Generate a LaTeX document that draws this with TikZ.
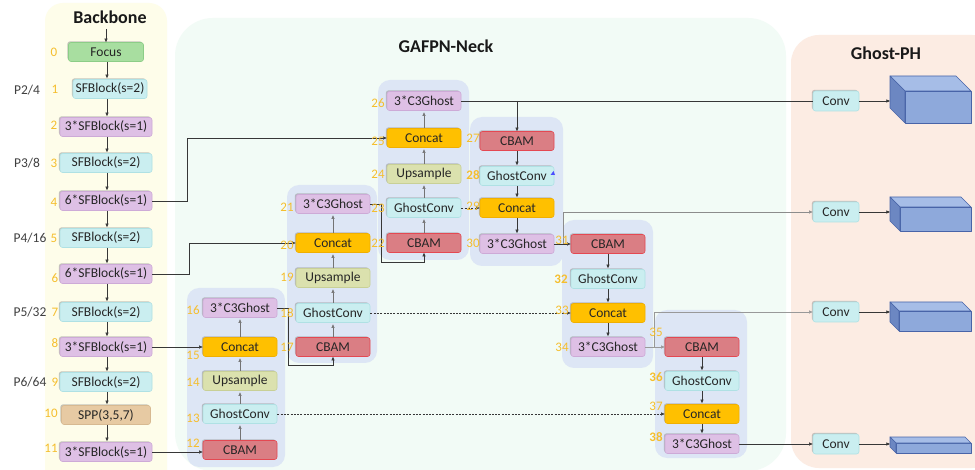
\documentclass[tikz,border=0pt]{standalone}
\usepackage{fontspec}
\setmainfont{Carlito}
\usetikzlibrary{arrows.meta,shadows}

\definecolor{bbback}{RGB}{254,253,234}
\definecolor{neckback}{RGB}{242,251,246}
\definecolor{headback}{RGB}{252,236,227}
\definecolor{grpback}{RGB}{221,230,245}
\definecolor{numcol}{RGB}{245,190,45}
\definecolor{labcol}{RGB}{64,64,64}
\definecolor{focusfill}{RGB}{168,222,160}
\definecolor{focusline}{RGB}{140,205,135}
\definecolor{cyanfill}{RGB}{202,238,240}
\definecolor{cyanline}{RGB}{175,225,228}
\definecolor{purplefill}{RGB}{222,192,229}
\definecolor{purpleline}{RGB}{205,170,215}
\definecolor{sppfill}{RGB}{231,202,163}
\definecolor{sppline}{RGB}{215,185,145}
\definecolor{concatfill}{RGB}{255,192,0}
\definecolor{concatline}{RGB}{240,175,0}
\definecolor{upfill}{RGB}{219,225,174}
\definecolor{upline}{RGB}{200,208,150}
\definecolor{cbamfill}{RGB}{218,126,132}
\definecolor{cbamline}{RGB}{228,72,82}
\definecolor{cubefront}{RGB}{142,169,219}
\definecolor{cubetop}{RGB}{166,189,231}
\definecolor{cubeside}{RGB}{108,135,194}
\definecolor{cubeline}{RGB}{72,100,168}
\definecolor{wire}{RGB}{55,55,55}

\tikzset{
  blk/.style={rounded corners=2.5pt, minimum height=19pt, inner sep=1pt,
    font=\fontsize{13.5}{15}\selectfont, text=black!85, line width=0.6pt,
    drop shadow={shadow xshift=-1.1pt, shadow yshift=1.1pt, fill=black!45, opacity=0.5}},
  focusb/.style={blk, fill=focusfill, draw=focusline, minimum width=75pt},
  sfa/.style={blk, fill=cyanfill, draw=cyanline, minimum width=92pt},
  sfb/.style={blk, fill=purplefill, draw=purpleline, minimum width=92pt},
  sppb/.style={blk, fill=sppfill, draw=sppline, minimum width=89pt},
  cbamb/.style={blk, fill=cbamfill, draw=cbamline, minimum width=74pt},
  gconvb/.style={blk, fill=cyanfill, draw=cyanline, minimum width=74pt},
  upb/.style={blk, fill=upfill, draw=upline, minimum width=74pt},
  concatb/.style={blk, fill=concatfill, draw=concatline, minimum width=74pt},
  ghostb/.style={blk, fill=purplefill, draw=purpleline, minimum width=74pt},
  convb/.style={blk, fill=cyanfill, draw=cyanline, minimum width=46pt, minimum height=20pt},
  num/.style={font=\fontsize{13}{15}\selectfont, text=numcol, inner sep=0pt},
  numbold/.style={num, font=\fontsize{13}{15}\selectfont\bfseries},
  plab/.style={font=\fontsize{13.5}{15}\selectfont, text=labcol, inner sep=0pt},
  title/.style={font=\fontsize{18}{20}\selectfont\bfseries, text=black!90, inner sep=0pt},
  panel/.style={fill=grpback, draw=none, rounded corners=12pt},
  ln/.style={draw=wire, line width=0.6pt},
  arr/.style={ln, -{Triangle[length=3.6pt,width=3pt]}},
  uparr/.style={arr, draw=black!55, shorten >=1.5pt},
  dsh/.style={arr, dash pattern=on 2pt off 1.3pt},
  cube/.style={draw=cubeline, line width=0.6pt, line join=round}
}

% cuboid: front face from x=#1 to 971, y=#2..#3, depth #4
\newcommand{\featcube}[4]{%
  \filldraw[cube, fill=cubefront] (#1,#2) rectangle (971,#3);
  \filldraw[cube, fill=cubetop] (#1,#2) -- (#1-#4,#2-#4) -- (971-#4,#2-#4) -- (971,#2) -- cycle;
  \filldraw[cube, fill=cubeside] (#1,#2) -- (#1-#4,#2-#4) -- (#1-#4,#3-#4) -- (#1,#3) -- cycle;
}

\begin{document}
\begin{tikzpicture}[x=1pt,y=-1pt]
\useasboundingbox (0,0) rectangle (975,470);
\clip (0,0) rectangle (975,470);
\fill[white] (0,0) rectangle (975,470);

% section backgrounds
\fill[bbback, rounded corners=18pt] (45,3) rectangle (167,490);
\fill[neckback, rounded corners=38pt] (175,18) rectangle (786,471);
\fill[headback, rounded corners=28pt] (791,35) rectangle (1000,468);

\node[title] (tbb) at (110,17) {Backbone};
\node[title] (tneck) at (446,46) {GAFPN-Neck};
\node[title] (thead) at (886,53) {Ghost-PH};

% neck group panels
\fill[panel] (187,288) rectangle (285,467);
\fill[panel] (287,185) rectangle (377,363);
\fill[panel] (378,80) rectangle (469,260);
\fill[panel] (470,117) rectangle (563,266);
\fill[panel] (562,220) rectangle (653,368);
\fill[panel] (655,310) rectangle (747,458);

% backbone
\coordinate (input) at (106,29);
\node[focusb] (b0) at (106,52) {Focus};
\node[sfa, minimum width=74pt] (b1) at (110,89) {SFBlock(s=2)};
\node[sfb] (b2) at (106,127) {3*SFBlock(s=1)};
\node[sfa] (b3) at (106,163) {SFBlock(s=2)};
\node[sfb] (b4) at (106,201) {6*SFBlock(s=1)};
\node[sfa] (b5) at (106,238) {SFBlock(s=2)};
\node[sfb] (b6) at (106,274) {6*SFBlock(s=1)};
\node[sfa] (b7) at (106,312) {SFBlock(s=2)};
\node[sfb] (b8) at (106,347) {3*SFBlock(s=1)};
\node[sfa] (b9) at (106,382) {SFBlock(s=2)};
\node[sppb] (b10) at (106,415) {SPP(3,5,7)};
\node[sfb] (b11) at (106,452) {3*SFBlock(s=1)};

\draw[arr] (input) -- (b0.north);
\foreach \a/\b in {b0/b1,b1/b2,b2/b3,b3/b4,b4/b5,b5/b6,b6/b7,b7/b8,b8/b9,b9/b10,b10/b11}
  \draw[arr, shorten >=1pt] (\a.south -| 107,0) -- (\b.north -| 107,0);

\node[plab] (p2) at (27,90) {P2/4};
\node[plab] (p3) at (27,163) {P3/8};
\node[plab] (p4) at (30,238) {P4/16};
\node[plab] (p5) at (30,312) {P5/32};
\node[plab] (p6) at (30,382) {P6/64};

% neck blocks
\node[cbamb]   (n12) at (240,450) {CBAM};
\node[gconvb]  (n13) at (240,414) {GhostConv};
\node[upb]     (n14) at (240,381) {Upsample};
\node[concatb] (n15) at (240,347) {Concat};
\node[ghostb]  (n16) at (240,308) {3*C3Ghost};

\node[cbamb]   (n17) at (333,347) {CBAM};
\node[gconvb]  (n18) at (333,313) {GhostConv};
\node[upb]     (n19) at (333,278) {Upsample};
\node[concatb] (n20) at (333,243) {Concat};
\node[ghostb]  (n21) at (333,204) {3*C3Ghost};

\node[cbamb]   (n22) at (424,243) {CBAM};
\node[gconvb]  (n23) at (424,208) {GhostConv};
\node[upb]     (n24) at (424,174) {Upsample};
\node[concatb] (n25) at (424,138) {Concat};
\node[ghostb]  (n26) at (424,101) {3*C3Ghost};

\node[cbamb]   (n27) at (517,141) {CBAM};
\node[gconvb]  (n28) at (517,176) {GhostConv};
\node[concatb] (n29) at (517,208) {Concat};
\node[ghostb]  (n30) at (517,244) {3*C3Ghost};

\node[cbamb]   (n31) at (608,244) {CBAM};
\node[gconvb]  (n32) at (608,279) {GhostConv};
\node[concatb] (n33) at (608,313) {Concat};
\node[ghostb]  (n34) at (608,347) {3*C3Ghost};

\node[cbamb]   (n35) at (702,347) {CBAM};
\node[gconvb]  (n36) at (702,381) {GhostConv};
\node[concatb] (n37) at (702,414) {Concat};
\node[ghostb]  (n38) at (702,444) {3*C3Ghost};

% small marker beside GhostConv 28
\fill[blue!70] (550.5,175) -- (555,175) -- (553.5,171) -- cycle;

% head
\node[convb] (c1) at (836,101) {Conv};
\node[convb] (c2) at (836,212) {Conv};
\node[convb] (c3) at (836,312) {Conv};
\node[convb] (c4) at (836,444) {Conv};

\featcube{905}{91}{123}{15}
\featcube{900}{207}{231}{10}
\featcube{899}{311}{331}{9}
\featcube{896}{443}{453}{6}
\coordinate (f1) at (890,101);
\coordinate (f2) at (890,212);
\coordinate (f3) at (890,312);
\coordinate (f4) at (890,444);
\foreach \i in {1,2,3,4} \draw[arr] (c\i.east) -- (f\i);

% bottom-up path
\foreach \a/\b in {n12/n13,n13/n14,n14/n15,n15/n16,n17/n18,n18/n19,n19/n20,n20/n21,n22/n23,n23/n24,n24/n25,n25/n26}
  \draw[uparr] (\a.north) -- (\b.south);
% top-down path
\foreach \a/\b in {n27/n28,n28/n29,n29/n30,n31/n32,n32/n33,n33/n34,n35/n36,n36/n37,n37/n38}
  \draw[arr, shorten >=1pt] (\a.south) -- (\b.north);

% lateral inputs from the backbone
\draw[arr] (b4.east) -- (187,201) -- (187,138) -- (n25.west);
\draw[arr] (b6.east) -- (189,274) -- (189,243) -- (n20.west);
\draw[arr] (b8.east) -- (b8.east -| n15.west);
\draw[arr] (b11.east) -- (n12.west |- b11.east);

% links between stages
\draw[arr] (n16.east) -- (288,308) -- (288,365) -- (333,365) -- (n17.south);
\draw[arr] (n21.east) -- (381,204) -- (381,262) -- (424,262) -- (n22.south);
\draw[ln] (n26.east) -- (c1.west);
\draw[arr] (n27.north |- n26.east) -- (n27.north);
\coordinate (j30) at (563,244);
\draw[arr] (n30.east) -- (n31.west);
\draw[arr, draw=black!45] (j30) |- (c2.west);
\coordinate (j34) at (654,347);
\draw[arr, draw=black!40] (n34.east) -- (n35.west);
\draw[arr, draw=black!40] (j34) |- (c3.west);
\draw[arr] (n38.east) -- (c4.west);

% dashed skip connections
\draw[dsh] (n13.east) -- (n37.west);
\draw[dsh] (n18.east) -- (n33.west);
\draw[dsh] (n23.east) -- (n29.west);

% layer indices
\foreach \t/\x/\y in {0/54/52,1/55/89,2/54/125,3/54/163,4/54/202,5/54/238,6/55/278,7/55/312,8/55/343,9/55/382,10/51/413,11/51/448,
  16/193/310,15/193/355,14/193/382,13/193/418,12/193/443,
  21/287/207,20/287/245,19/287/277,18/287/313,17/287/347,
  26/378/103,25/378/141,24/378/174,23/378/208,22/378/243,
  27/473/138,29/473/206,30/473/243,
  31/562/240,33/562/310,34/562/347,
  35/656/332,37/656/406}
  \node[num] (l\t) at (\x,\y) {\t};
\foreach \t/\x/\y in {28/473/175,32/561/279,36/656/377,38/656/437}
  \node[numbold] (l\t) at (\x,\y) {\t};
\end{tikzpicture}
\end{document}
